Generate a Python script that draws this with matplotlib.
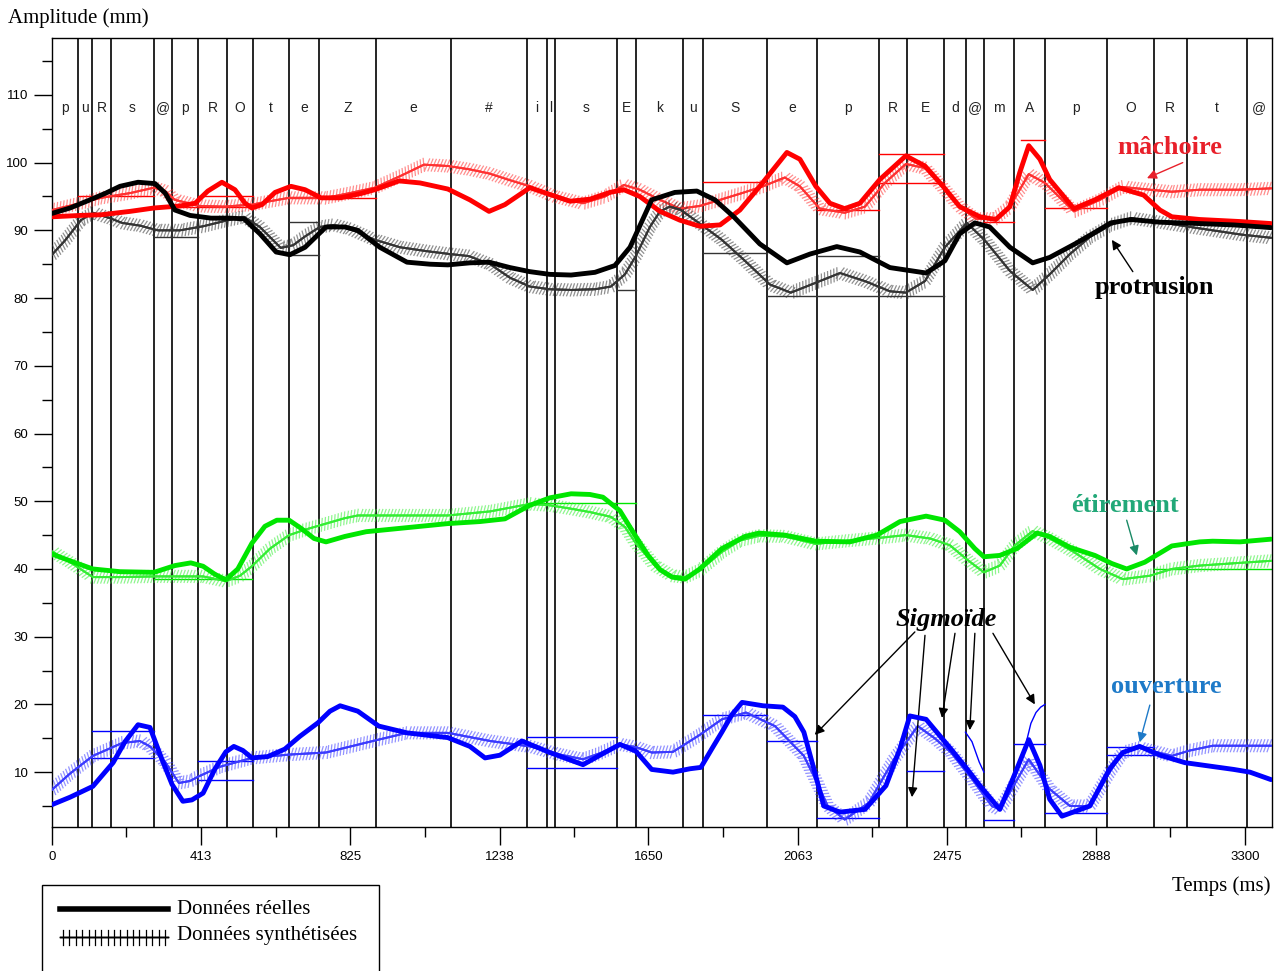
import numpy as np
import matplotlib
matplotlib.use('Agg')
import matplotlib.pyplot as plt
from matplotlib import patheffects as pe
from matplotlib.lines import Line2D
from matplotlib.patches import Rectangle

# ---------------- data ----------------
boundaries = [73, 112, 163, 281, 333, 404, 484, 557, 656, 738, 896, 1103, 1314, 1369, 1391,
              1563, 1615, 1745, 1801, 1978, 2116, 2287, 2365, 2467, 2528, 2578, 2661, 2747,
              2918, 3048, 3139, 3305]
phonemes = ['p', 'u', 'R', 's', '@', 'p', 'R', 'O', 't', 'e', 'Z', 'e', '#', 'i', 'l', 's', 'E',
            'k', 'u', 'S', 'e', 'p', 'R', 'E', 'd', '@', 'm', 'A', 'p', 'O', 'R', 't', '@']

# mâchoire (jaw)
jaw_real_t = [0, 77, 136, 216, 282, 354, 396, 431, 470, 506, 534, 553, 581, 617, 661, 700, 744, 797,
              852, 893, 960, 1018, 1095, 1156, 1209, 1253, 1322, 1377, 1433, 1488, 1543, 1582, 1626,
              1682, 1737, 1792, 1848, 1903, 1958, 2033, 2069, 2113, 2152, 2193, 2235, 2290, 2362,
              2415, 2465, 2511, 2567, 2611, 2650, 2677, 2702, 2733, 2760, 2827, 2885, 2951, 3020,
              3065, 3098, 3175, 3286, 3372]
jaw_real_v = [92.0, 92.2, 92.3, 92.8, 93.3, 93.6, 94.0, 95.8, 97.1, 96.0, 94.0, 93.3, 93.8, 95.6,
              96.5, 96.0, 94.8, 94.8, 95.4, 96.0, 97.3, 97.0, 96.1, 94.5, 92.8, 93.8, 96.3, 95.3,
              94.3, 94.6, 95.6, 96.0, 95.0, 92.8, 91.5, 90.6, 90.8, 93.0, 96.5, 101.5, 100.5, 96.5,
              94.0, 93.2, 94.0, 97.5, 101.0, 99.5, 96.5, 93.5, 92.0, 91.6, 93.5, 98.5, 102.5, 100.5,
              97.5, 93.2, 94.5, 96.3, 95.2, 93.0, 92.0, 91.6, 91.3, 91.0]
jaw_syn_t = [0, 77, 136, 216, 282, 313, 340, 409, 476, 553, 603, 656, 700, 758, 824, 893, 963, 1029,
             1095, 1156, 1209, 1267, 1322, 1391, 1469, 1530, 1582, 1626, 1682, 1737, 1792, 1848, 1909,
             1967, 2027, 2069, 2124, 2193, 2249, 2304, 2362, 2415, 2465, 2511, 2556, 2608, 2650, 2702,
             2747, 2827, 2899, 2962, 3037, 3098, 3175, 3286, 3372]
jaw_syn_v = [93.0, 94.0, 94.8, 95.5, 96.3, 95.8, 94.5, 93.6, 93.5, 93.8, 94.3, 94.8, 94.8, 94.8,
             95.5, 96.3, 98.0, 99.7, 99.5, 99.0, 98.4, 97.4, 96.5, 95.0, 94.0, 95.0, 96.7, 96.0,
             94.5, 93.2, 93.6, 94.5, 95.5, 96.5, 97.8, 96.5, 93.2, 92.6, 93.5, 97.0, 99.8, 99.2,
             96.3, 93.5, 91.7, 91.7, 93.5, 98.3, 97.0, 92.8, 94.5, 96.4, 96.0, 95.7, 96.0, 96.0, 96.2]
jaw_targets = [(73, 281, 95.1), (281, 557, 93.5), (404, 557, 95.0), (656, 896, 94.8),
               (1801, 1978, 97.2), (2116, 2287, 93.0), (2287, 2467, 101.2), (2287, 2467, 97.0),
               (2578, 2661, 91.3), (2680, 2747, 103.4), (2747, 2918, 93.3)]

# protrusion
pro_real_t = [0, 50, 105, 149, 188, 238, 285, 313, 340, 382, 440, 492, 531, 575, 620, 658, 700, 758,
              810, 846, 907, 982, 1046, 1095, 1156, 1209, 1267, 1322, 1377, 1436, 1502, 1557, 1599,
              1659, 1723, 1784, 1834, 1886, 1958, 2033, 2097, 2171, 2235, 2318, 2418, 2470, 2511,
              2553, 2594, 2650, 2713, 2760, 2830, 2885, 2929, 2985, 3065, 3175, 3269, 3372]
pro_real_v = [92.5, 93.3, 94.5, 95.5, 96.5, 97.1, 96.9, 95.5, 93.0, 92.2, 91.8, 91.8, 91.7, 89.5,
              86.8, 86.4, 87.5, 90.5, 90.5, 90.0, 87.5, 85.3, 85.0, 84.9, 85.2, 85.3, 84.5, 83.9,
              83.5, 83.4, 83.8, 84.8, 87.5, 94.5, 95.6, 95.8, 94.5, 92.0, 88.0, 85.2, 86.5, 87.6,
              86.8, 84.5, 83.7, 85.5, 89.5, 91.1, 90.5, 87.5, 85.2, 86.0, 88.0, 89.7, 91.1, 91.6,
              91.2, 91.0, 90.8, 90.4]
pro_syn_t = [0, 36, 80, 113, 160, 194, 243, 293, 354, 418, 479, 531, 575, 633, 667, 700, 741, 780,
             824, 893, 963, 1040, 1101, 1153, 1212, 1267, 1322, 1377, 1436, 1502, 1546, 1585, 1615,
             1654, 1682, 1709, 1740, 1792, 1853, 1917, 1986, 2044, 2110, 2180, 2249, 2318, 2362,
             2415, 2470, 2531, 2581, 2650, 2713, 2760, 2816, 2871, 2929, 2985, 3065, 3148, 3211,
             3286, 3372]
pro_syn_v = [86.4, 88.5, 91.5, 92.6, 91.8, 91.1, 90.7, 90.0, 90.0, 90.6, 91.4, 92.0, 90.5, 87.4,
             87.8, 89.1, 90.5, 90.8, 90.2, 88.6, 87.5, 86.9, 86.5, 86.2, 85.0, 83.0, 81.7, 81.3,
             81.2, 81.3, 81.7, 83.5, 86.2, 90.5, 92.8, 93.5, 93.0, 91.0, 88.6, 85.5, 82.0, 80.8,
             82.2, 83.7, 82.5, 81.0, 80.8, 82.5, 87.5, 91.1, 88.5, 84.0, 81.2, 83.5, 86.5, 89.0,
             90.8, 91.8, 91.2, 90.5, 90.0, 89.4, 88.9]
pro_targets = [(281, 404, 89.0), (656, 738, 91.2), (656, 738, 86.4), (1563, 1615, 81.2),
               (1801, 1978, 86.7), (1978, 2467, 80.3), (2116, 2287, 86.2)]

# étirement
eti_real_t = [0, 50, 113, 188, 282, 340, 384, 418, 451, 481, 514, 553, 589, 622, 656, 689, 725, 758,
              810, 869, 963, 1095, 1184, 1253, 1294, 1322, 1377, 1436, 1488, 1524, 1571, 1615, 1649,
              1682, 1715, 1751, 1792, 1853, 1917, 1956, 2027, 2113, 2207, 2282, 2346, 2418, 2470,
              2511, 2553, 2578, 2622, 2669, 2725, 2760, 2816, 2885, 2932, 2973, 3023, 3098, 3175,
              3211, 3286, 3372]
eti_real_v = [42.2, 41.2, 40.0, 39.6, 39.5, 40.5, 40.9, 40.4, 39.2, 38.4, 40.0, 43.8, 46.3, 47.2,
              47.2, 46.0, 44.5, 44.0, 44.8, 45.5, 46.0, 46.7, 47.0, 47.4, 48.6, 49.4, 50.5, 51.1,
              51.0, 50.6, 48.6, 44.8, 42.0, 39.9, 38.8, 38.5, 40.0, 43.0, 44.8, 45.3, 45.0, 44.1,
              44.0, 45.0, 47.0, 47.8, 47.2, 45.5, 43.0, 41.8, 42.0, 43.0, 45.3, 44.8, 43.2, 42.0,
              40.8, 40.0, 41.0, 43.4, 44.0, 44.1, 44.0, 44.4]
eti_syn_t = [0, 50, 113, 188, 282, 354, 418, 481, 520, 553, 603, 656, 700, 758, 810, 846, 963, 1095,
             1212, 1322, 1377, 1436, 1488, 1546, 1585, 1615, 1668, 1715, 1751, 1792, 1853, 1903,
             1956, 2027, 2113, 2207, 2290, 2362, 2429, 2484, 2531, 2578, 2622, 2664, 2713, 2760,
             2827, 2899, 2962, 3037, 3098, 3175, 3286, 3372]
eti_syn_v = [42.6, 41.0, 38.8, 38.8, 38.9, 38.9, 38.9, 38.2, 39.0, 40.4, 43.0, 45.0, 45.8, 46.7,
             47.5, 47.9, 47.9, 47.9, 48.5, 49.6, 49.4, 48.9, 48.4, 47.7, 46.2, 43.8, 40.5, 39.0,
             38.8, 39.8, 42.5, 44.2, 44.9, 44.8, 43.7, 44.2, 44.6, 45.0, 44.5, 43.5, 41.4, 39.5,
             40.5, 43.5, 45.6, 44.5, 42.5, 40.0, 38.5, 39.0, 40.0, 40.5, 40.9, 41.2]
eti_targets = [(282, 553, 38.5), (1314, 1615, 49.8), (3048, 3375, 40.0)]

# ouverture
ouv_real_t = [0, 50, 113, 169, 202, 238, 271, 304, 332, 362, 387, 418, 451, 481, 503, 528, 553, 597,
              644, 686, 736, 769, 797, 846, 904, 982, 1095, 1156, 1198, 1239, 1300, 1377, 1469, 1516,
              1571, 1615, 1659, 1718, 1765, 1795, 1826, 1853, 1881, 1909, 1967, 2022, 2055, 2080,
              2110, 2135, 2180, 2249, 2307, 2346, 2373, 2418, 2487, 2531, 2567, 2622, 2658, 2702,
              2733, 2760, 2794, 2871, 2926, 2962, 3009, 3065, 3134, 3269, 3314, 3372]
ouv_real_v = [5.2, 6.3, 7.9, 11.4, 14.5, 17.0, 16.6, 11.9, 8.2, 5.7, 5.9, 6.9, 10.5, 13.0, 13.8,
              13.2, 12.1, 12.3, 13.4, 15.3, 17.3, 19.0, 19.8, 19.0, 16.8, 15.8, 15.1, 13.8, 12.1,
              12.5, 14.6, 12.9, 11.1, 12.5, 14.1, 13.1, 10.4, 10.0, 10.5, 10.7, 13.5, 15.9, 18.5,
              20.3, 19.8, 19.6, 18.2, 15.9, 10.0, 5.0, 4.1, 4.5, 8.0, 13.5, 18.3, 17.8, 13.4, 10.5,
              8.0, 4.5, 9.0, 14.8, 11.0, 6.0, 3.5, 5.0, 10.5, 12.9, 13.8, 12.5, 11.4, 10.4, 10.0, 8.9]
ouv_syn_t = [0, 50, 113, 194, 243, 271, 313, 351, 382, 407, 465, 553, 658, 758, 880, 982, 1095, 1212,
             1322, 1405, 1469, 1516, 1571, 1615, 1659, 1718, 1792, 1853, 1920, 2000, 2080, 2116,
             2146, 2193, 2260, 2329, 2395, 2442, 2487, 2545, 2600, 2622, 2655, 2702, 2760, 2816,
             2871, 2926, 2962, 3009, 3098, 3148, 3211, 3286, 3372]
ouv_syn_v = [7.4, 9.8, 12.4, 14.3, 14.6, 13.8, 11.5, 8.4, 8.7, 9.4, 10.8, 12.1, 12.6, 12.9, 14.5,
             15.8, 15.8, 14.6, 13.8, 12.6, 11.9, 12.8, 14.1, 13.7, 12.9, 13.0, 15.5, 17.8, 18.8,
             16.8, 12.4, 8.5, 5.0, 3.0, 5.5, 11.9, 16.8, 15.0, 12.9, 9.0, 5.0, 4.5, 7.5, 11.9, 7.5,
             5.0, 5.0, 10.0, 12.9, 13.6, 12.4, 13.2, 13.9, 13.9, 13.9]
ouv_targets = [(112, 281, 16.1), (112, 281, 12.1), (404, 557, 11.6), (404, 557, 8.9),
               (1314, 1563, 15.2), (1314, 1563, 10.6), (1801, 1978, 18.5), (1978, 2116, 14.6),
               (2116, 2287, 3.3), (2365, 2467, 10.2), (2578, 2661, 3.0), (2661, 2747, 14.1),
               (2747, 2918, 4.0), (2918, 3048, 13.7), (2918, 3048, 12.5)]
# thin sigmoid transitions (ouverture)
sig1_t = [2527, 2545, 2565, 2578]
sig1_v = [15.9, 14.5, 11.5, 10.0]
sig2_t = [2697, 2708, 2722, 2735, 2747]
sig2_v = [14.8, 17.2, 18.8, 19.6, 20.0]

# ---------------- figure ----------------
W, H = 1282, 971
fig = plt.figure(figsize=(W / 100, H / 100), dpi=100)
L, R, T, B = 52, 1272, 38, 827
ax = fig.add_axes([L / W, 1 - B / H, (R - L) / W, (B - T) / H])
ax.set_xlim(0, 3375)
ax.set_ylim(1.9, 118.4)

for b in boundaries:
    ax.axvline(b, color='black', lw=1.2, zorder=1)

edges = [0] + boundaries + [3375]
for i, lab in enumerate(phonemes):
    ax.text((edges[i] + edges[i + 1]) / 2, 108.1, lab, ha='center', va='center',
            fontsize=10, family='Liberation Sans', color='#222222', zorder=5)


def synth(t, v, col):
    ax.plot(t, v, color=col, lw=1.4, alpha=0.8, zorder=3,
            path_effects=[pe.withTickedStroke(spacing=2.4, angle=70, length=1.9, linewidth=0.9, alpha=0.55),
                          pe.withTickedStroke(spacing=2.4, angle=-110, length=1.9, linewidth=0.9, alpha=0.55),
                          pe.Normal()])


def real(t, v, col):
    ax.plot(t, v, color=col, lw=3.5, zorder=4, solid_capstyle='round', solid_joinstyle='round')


def targets(segs, col):
    for s, e, val in segs:
        ax.plot([s, e], [val, val], color=col, lw=1.0, zorder=2)


RED, BLK, GRN, BLU = '#ff0000', '#000000', '#00e600', '#0000ff'
targets(jaw_targets, RED)
targets(pro_targets, '#333333')
targets(eti_targets, GRN)
targets(ouv_targets, BLU)
synth(jaw_syn_t, jaw_syn_v, '#ff3030')
synth(pro_syn_t, pro_syn_v, '#333333')
synth(eti_syn_t, eti_syn_v, '#33ee33')
synth(ouv_syn_t, ouv_syn_v, '#3a3aff')
real(jaw_real_t, jaw_real_v, RED)
real(pro_real_t, pro_real_v, BLK)
real(eti_real_t, eti_real_v, GRN)
real(ouv_real_t, ouv_real_v, BLU)
ax.plot(sig1_t, sig1_v, color=BLU, lw=1.0, zorder=3)
ax.plot(sig2_t, sig2_v, color=BLU, lw=1.0, zorder=3)

# ticks
ax.set_xticks([0, 413, 825, 1238, 1650, 2063, 2475, 2888, 3300])
ax.set_xticks([206, 619, 1031, 1444, 1856, 2269, 2681, 3094], minor=True)
ax.set_yticks(list(range(10, 111, 10)))
ax.set_yticks(list(range(5, 116, 10)), minor=True)
ax.tick_params(which='major', direction='out', length=13, width=1, labelsize=9.5, pad=4)
ax.tick_params(which='minor', direction='out', length=7, width=1)
for lab in ax.get_xticklabels() + ax.get_yticklabels():
    lab.set_family('Liberation Sans')
for sp in ax.spines.values():
    sp.set_linewidth(1.0)

serif = 'Liberation Serif'
fig.text(8 / W, 1 - 18 / H, 'Amplitude (mm)', family=serif, fontsize=15, ha='left', va='center')
fig.text(1270 / W, 1 - 886 / H, 'Temps (ms)', family=serif, fontsize=15, ha='right', va='center')

# annotations
FS = 19
arrow = dict(arrowstyle='-|>', color='black', lw=1.0, mutation_scale=14, shrinkA=0, shrinkB=0)
ax.text(3092, 102.2, 'mâchoire', color='#e8202a', fontsize=FS, fontweight='bold', family=serif,
        ha='center', va='center')
ax.annotate('', xy=(3029, 97.7), xytext=(3128, 100.0),
            arrowprops=dict(arrow, color='#e8202a'))
ax.text(3051, 81.5, 'protrusion', color='black', fontsize=FS, fontweight='bold', family=serif,
        ha='center', va='center')
ax.annotate('', xy=(2932, 88.6), xytext=(2990, 83.9), arrowprops=arrow)
ax.text(2968, 49.4, 'étirement', color='#22a878', fontsize=FS, fontweight='bold', family=serif,
        ha='center', va='center')
ax.annotate('', xy=(3001, 42.0), xytext=(2973, 47.2), arrowprops=dict(arrow, color='#1a8a66'))
ax.text(3084, 22.6, 'ouverture', color='#1e7ac8', fontsize=FS, fontweight='bold', family=serif,
        ha='center', va='center')
ax.annotate('', xy=(3009, 14.4), xytext=(3037, 19.9), arrowprops=dict(arrow, color='#1e7ac8'))
ax.text(2473, 32.5, 'Sigmoïde', color='black', fontsize=FS, fontweight='bold', style='italic',
        family=serif, ha='center', va='center')
for (x0, y0), (x1, y1) in [((2387, 30.7), (2110, 15.5)), ((2415, 30.2), (2379, 6.3)),
                           ((2498, 30.5), (2462, 18.0)), ((2553, 30.5), (2539, 16.2)),
                           ((2603, 30.5), (2719, 20.0))]:
    ax.annotate('', xy=(x1, y1), xytext=(x0, y0), arrowprops=arrow)

# legend box
fig.patches.append(Rectangle((42 / W, -0.01), (379 - 42) / W, 1 - 885 / H + 0.01,
                             transform=fig.transFigure, fill=False, ec='black', lw=1.0))
fig.lines.append(Line2D([60 / W, 168 / W], [1 - 909 / H, 1 - 909 / H], transform=fig.transFigure,
                        color='black', lw=4))
lsyn = Line2D([60 / W, 168 / W], [1 - 937 / H, 1 - 937 / H], transform=fig.transFigure,
              color='black', lw=1.0,
              path_effects=[pe.withTickedStroke(spacing=4.5, angle=90, length=1.2, linewidth=0.9),
                            pe.withTickedStroke(spacing=4.5, angle=-90, length=1.2, linewidth=0.9),
                            pe.Normal()])
fig.lines.append(lsyn)
fig.text(177 / W, 1 - 909 / H, 'Données réelles', family=serif, fontsize=15, va='center')
fig.text(177 / W, 1 - 935 / H, 'Données synthétisées', family=serif, fontsize=15, va='center')

fig.savefig('out.png', dpi=100)
